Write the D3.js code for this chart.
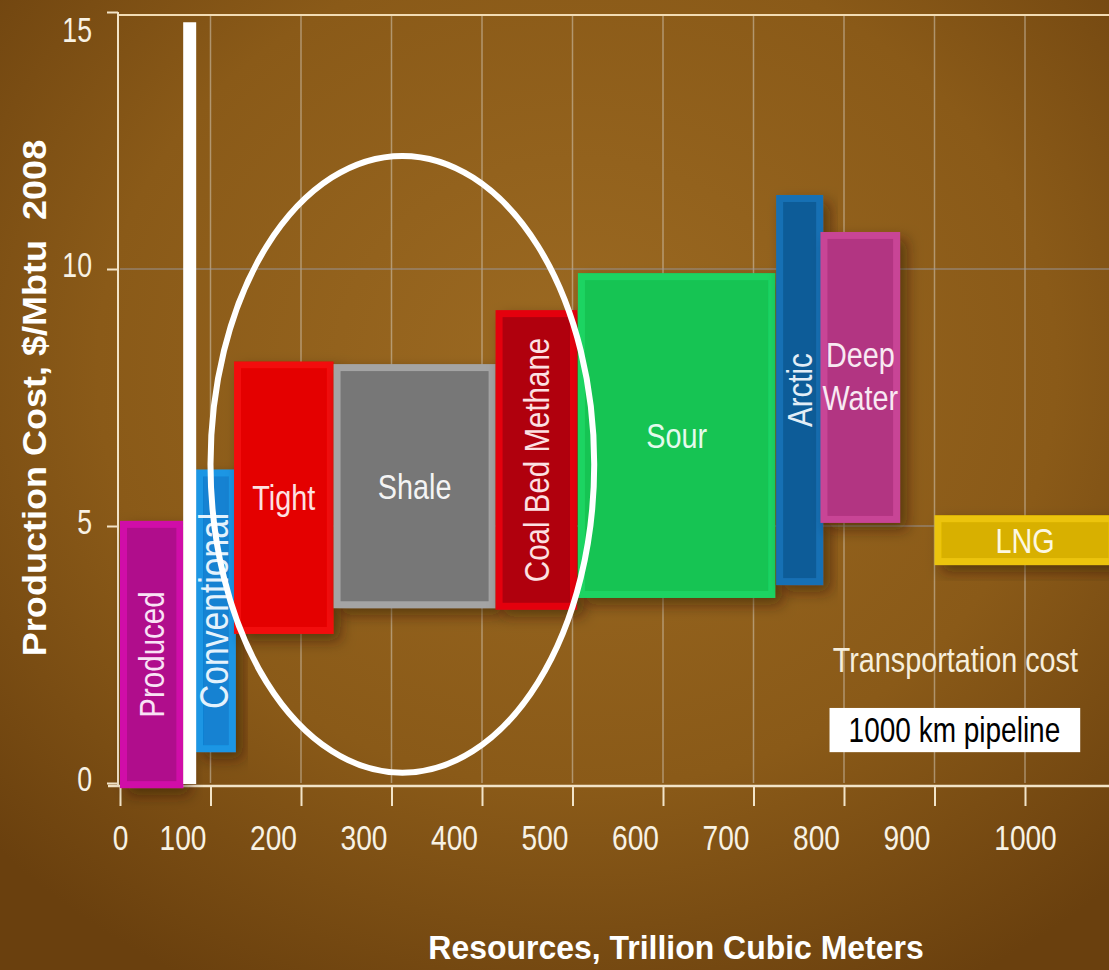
<!DOCTYPE html>
<html lang="en">
<head>
    <meta charset="UTF-8">
    <title>Gas supply cost curve</title>
    <script src="https://d3js.org/d3.v7.min.js"></script>
    <style>
        body { margin: 0; background: #7a4e14; }
        text { font-family: "Liberation Sans", Arial, sans-serif; }
    </style>
</head>
<body>
    <script>
        // resource categories, left to right along the curve
        var categories = ["Produced", "Conventional", "Tight", "Shale", "Coal Bed Methane",
                          "Sour", "Arctic", "Deep Water", "LNG"];
        // resources, trillion cubic meters (start and end of each block)
        var tcmStart = [0, 84, 126, 236, 415, 506, 725, 774, 900];
        var tcmEnd   = [70, 128, 236, 415, 505, 724, 777, 862, 1100];
        // production cost, $/Mbtu 2008 (low and high)
        var costLow  = [-0.1, 0.6, 2.9, 3.4, 3.37, 3.6, 3.85, 5.06, 4.24];
        var costHigh = [5.1, 6.1, 8.2, 8.15, 9.2, 9.92, 11.44, 10.72, 5.21];

        var xTicks = [0, 100, 200, 300, 400, 500, 600, 700, 800, 900, 1000];
        var yTicks = [0, 5, 10, 15];

        // white divider between produced and remaining resources
        var dividerTcm = 77, dividerTop = 14.8;
        // ring around the unconventional resources
        var ringCenter = [312, 6.2], ringRadius = [212, 6.0];

        var faceColors = ["#b0088c", "#1282d2", "#e40000", "#777777", "#b0000e",
                          "#12c452", "#0f5c98", "#b23682", "#d8b000"];
        var edgeColors = ["#d010a8", "#1c96e4", "#f20808", "#a4a4a4", "#e4000a",
                          "#1cd462", "#1670b4", "#c84496", "#ecc408"];
        var vertical = {"Produced": 1, "Conventional": 1, "Coal Bed Methane": 1, "Arctic": 1};

        var W = 1109, H = 970;
        var svg = d3.select("body").append("svg")
            .attr("width", W)
            .attr("height", H);

        var defs = svg.append("defs");
        var bg = defs.append("radialGradient").attr("id", "bg")
            .attr("cx", "52%").attr("cy", "38%").attr("r", "72%");
        bg.append("stop").attr("offset", "0%").attr("stop-color", "#9c6a22");
        bg.append("stop").attr("offset", "60%").attr("stop-color", "#8a5a18");
        bg.append("stop").attr("offset", "100%").attr("stop-color", "#6a400e");
        var shadow = defs.append("filter").attr("id", "shadow")
            .attr("x", "-20%").attr("y", "-20%").attr("width", "150%").attr("height", "150%");
        shadow.append("feDropShadow")
            .attr("dx", 7).attr("dy", 7).attr("stdDeviation", 7)
            .attr("flood-color", "#2a1500").attr("flood-opacity", 0.5);

        svg.append("rect").attr("width", W).attr("height", H).attr("fill", "url(#bg)");

        var x = d3.scaleLinear().domain([0, 1000]).range([120, 1025]);
        var y = d3.scaleLinear().domain([0, 15]).range([783, 12]);

        // grid
        svg.append("g").selectAll("line").data(xTicks.slice(1)).join("line")
            .attr("x1", function(d) { return x(d); })
            .attr("x2", function(d) { return x(d); })
            .attr("y1", y(14.94)).attr("y2", y(0))
            .attr("stroke", "#d8d2c4").attr("stroke-opacity", 0.5).attr("stroke-width", 1.5);
        svg.append("g").selectAll("line").data([5, 10]).join("line")
            .attr("x1", x(0)).attr("x2", W)
            .attr("y1", function(d) { return y(d); })
            .attr("y2", function(d) { return y(d); })
            .attr("stroke", "#9a9aa4").attr("stroke-opacity", 0.6).attr("stroke-width", 1.5);
        svg.append("line")
            .attr("x1", x(0) - 2).attr("x2", W)
            .attr("y1", y(14.94)).attr("y2", y(14.94))
            .attr("stroke", "#f2dcb4").attr("stroke-width", 2);

        // axes
        var xAxis = svg.append("g")
            .attr("transform", "translate(0," + (y(0) + 3) + ")")
            .call(d3.axisBottom(x).tickValues(xTicks).tickFormat(d3.format("d"))
                .tickSize(20).tickPadding(18));
        xAxis.select(".domain").remove();
        xAxis.selectAll("line").attr("stroke", "#f2e4c8").attr("stroke-width", 2);
        xAxis.selectAll("text")
            .attr("fill", "#f8f2e4")
            .style("font-size", "36px")
            .attr("transform", function(d) {
                var dx = (d === 0 || d === 1000) ? 0 : -28;
                return "translate(" + dx + ",0) scale(0.78,1)";
            });

        var yAxis = svg.append("g")
            .attr("transform", "translate(" + (x(0) - 2) + ",0)")
            .call(d3.axisLeft(y).tickValues(yTicks).tickSize(11).tickPadding(0));
        yAxis.select(".domain").remove();
        yAxis.selectAll("line").attr("stroke", "#f2e4c8").attr("stroke-width", 2);
        yAxis.selectAll("text")
            .attr("fill", "#f8f2e4")
            .attr("x", 0)
            .style("font-size", "36px")
            .attr("transform", function(d) {
                return "translate(-26," + (d === 15 ? 18 : -4) + ") scale(0.74,1)";
            });

        svg.append("line")
            .attr("x1", x(0) - 2).attr("x2", x(0) - 2)
            .attr("y1", y(15)).attr("y2", y(0) + 3)
            .attr("stroke", "#f2e4c8").attr("stroke-width", 2);
        svg.append("line")
            .attr("x1", x(0) - 12).attr("x2", W)
            .attr("y1", y(0) + 3).attr("y2", y(0) + 3)
            .attr("stroke", "#f2e4c8").attr("stroke-width", 2.5);

        // blocks
        var idx = d3.range(categories.length);
        var inset = 7;
        var blocks = svg.append("g").selectAll("g").data(idx).join("g")
            .attr("filter", "url(#shadow)");
        blocks.append("rect")
            .attr("x", function(i) { return x(tcmStart[i]); })
            .attr("y", function(i) { return y(costHigh[i]); })
            .attr("width", function(i) { return x(tcmEnd[i]) - x(tcmStart[i]); })
            .attr("height", function(i) { return y(costLow[i]) - y(costHigh[i]); })
            .attr("fill", function(i) { return edgeColors[i]; });
        blocks.append("rect")
            .attr("x", function(i) { return x(tcmStart[i]) + inset; })
            .attr("y", function(i) { return y(costHigh[i]) + inset; })
            .attr("width", function(i) { return x(tcmEnd[i]) - x(tcmStart[i]) - 2 * inset; })
            .attr("height", function(i) { return y(costLow[i]) - y(costHigh[i]) - 2 * inset; })
            .attr("fill", function(i) { return faceColors[i]; });

        // white divider
        svg.append("line")
            .attr("x1", x(dividerTcm)).attr("x2", x(dividerTcm))
            .attr("y1", y(dividerTop)).attr("y2", y(0) + 1)
            .attr("stroke", "#ffffff").attr("stroke-width", 13);

        // block labels
        var labels = svg.append("g").selectAll("text").data(idx).join("text")
            .attr("text-anchor", "middle")
            .attr("dy", "0.35em")
            .attr("fill", function(i) { return d3.interpolateRgb("#ffffff", edgeColors[i])(0.12); })
            .style("font-size", function(i) { return categories[i] === "Conventional" ? "41px" : "36px"; })
            .attr("transform", function(i) {
                var cx = (x(tcmStart[i]) + x(Math.min(tcmEnd[i], 1090))) / 2;
                var cy = (y(costLow[i]) + y(costHigh[i])) / 2;
                if (categories[i] === "Conventional") cx -= 2;
                if (categories[i] === "LNG") cx = x(1000);
                if (vertical[categories[i]]) return "translate(" + cx + "," + cy + ") rotate(-90) scale(0.82,1)";
                return "translate(" + cx + "," + cy + ") scale(0.8,1)";
            });
        labels.each(function(i) {
            var t = d3.select(this);
            var parts = categories[i] === "Deep Water" ? ["Deep", "Water"] : [categories[i]];
            if (parts.length === 1) { t.text(parts[0]); return; }
            t.attr("dy", null);
            parts.forEach(function(p, k) {
                t.append("tspan").attr("x", 0).attr("y", k === 0 ? -10 : 33).text(p);
            });
        });

        // ring
        svg.append("ellipse")
            .attr("cx", x(ringCenter[0])).attr("cy", y(ringCenter[1]))
            .attr("rx", x(ringRadius[0]) - x(0)).attr("ry", y(0) - y(ringRadius[1]))
            .attr("fill", "none").attr("stroke", "#ffffff").attr("stroke-width", 6);

        // transportation cost note
        svg.append("text")
            .attr("text-anchor", "middle")
            .attr("fill", "#f6eedc")
            .style("font-size", "36px")
            .attr("transform", "translate(" + x(923) + "," + (y(2.4) + 12) + ") scale(0.8,1)")
            .text("Transportation cost");
        svg.append("rect")
            .attr("x", x(784)).attr("y", y(1.46))
            .attr("width", x(1061) - x(784)).attr("height", y(0.6) - y(1.46))
            .attr("fill", "#ffffff");
        svg.append("text")
            .attr("text-anchor", "middle")
            .attr("fill", "#000000")
            .style("font-size", "35px")
            .attr("transform", "translate(" + x(922) + "," + (y(0.8)) + ") scale(0.8,1)")
            .text("1000 km pipeline");

        // axis titles
        svg.append("text")
            .attr("text-anchor", "middle")
            .attr("fill", "#ffffff")
            .style("font-size", "34px")
            .style("font-weight", "bold")
            .attr("transform", "translate(676,959) scale(0.94,1)")
            .text("Resources, Trillion Cubic Meters");
        svg.append("text")
            .attr("text-anchor", "middle")
            .attr("fill", "#ffffff")
            .style("font-size", "34px")
            .style("font-weight", "bold")
            .style("white-space", "pre")
            .attr("transform", "translate(46,398) rotate(-90) scale(1.06,1)")
            .text("Production Cost, $/Mbtu  2008");
    </script>
</body>
</html>
